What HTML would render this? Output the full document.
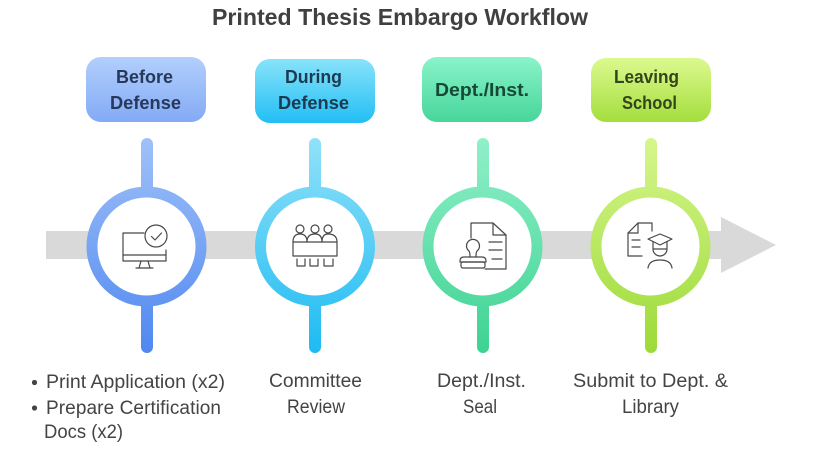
<!DOCTYPE html>
<html>
<head>
<meta charset="utf-8">
<style>
  html,body{margin:0;padding:0;background:#fff;}
  svg{display:block;}
  .ttl{font-family:"Liberation Sans",Arial,sans-serif;font-weight:bold;font-size:23px;fill:#404040;}
  .bx{font-family:"Liberation Sans",Arial,sans-serif;font-weight:bold;font-size:18px;}
  .lb{font-family:"Liberation Sans",Arial,sans-serif;font-size:19px;fill:#444;}
  .ic{fill:none;stroke:#474747;stroke-width:1.2;stroke-linejoin:round;stroke-linecap:round;}
</style>
</head>
<body>
<svg width="814" height="453" viewBox="0 0 814 453" xmlns="http://www.w3.org/2000/svg">
  <defs>
    <linearGradient id="b1" x1="0" y1="0" x2="0" y2="1"><stop offset="0" stop-color="#b2cffc"/><stop offset="1" stop-color="#83aaf5"/></linearGradient>
    <linearGradient id="b2" x1="0" y1="0" x2="0" y2="1"><stop offset="0" stop-color="#88e3fa"/><stop offset="1" stop-color="#22bef4"/></linearGradient>
    <linearGradient id="b3" x1="0" y1="0" x2="0" y2="1"><stop offset="0" stop-color="#8af4ca"/><stop offset="1" stop-color="#47d59a"/></linearGradient>
    <linearGradient id="b4" x1="0" y1="0" x2="0" y2="1"><stop offset="0" stop-color="#dcf98f"/><stop offset="1" stop-color="#a4de3d"/></linearGradient>

    <linearGradient id="c1" gradientUnits="userSpaceOnUse" x1="0" y1="138" x2="0" y2="353"><stop offset="0" stop-color="#a0c1f8"/><stop offset="1" stop-color="#5088f0"/></linearGradient>
    <linearGradient id="c2" gradientUnits="userSpaceOnUse" x1="0" y1="138" x2="0" y2="353"><stop offset="0" stop-color="#92e1f9"/><stop offset="1" stop-color="#1dbbf2"/></linearGradient>
    <linearGradient id="c3" gradientUnits="userSpaceOnUse" x1="0" y1="138" x2="0" y2="353"><stop offset="0" stop-color="#90f0c9"/><stop offset="1" stop-color="#3ed292"/></linearGradient>
    <linearGradient id="c4" gradientUnits="userSpaceOnUse" x1="0" y1="138" x2="0" y2="353"><stop offset="0" stop-color="#d6f68c"/><stop offset="1" stop-color="#9cda38"/></linearGradient>
  </defs>

  <!-- title -->
  <text class="ttl" x="212" y="25" textLength="376" lengthAdjust="spacingAndGlyphs">Printed Thesis Embargo Workflow</text>

  <!-- gray arrow band -->
  <rect x="46" y="231" width="676" height="28" fill="#d9d9d9"/>
  <polygon points="721,217 776,245 721,273" fill="#d9d9d9"/>

  <!-- header boxes -->
  <rect x="86" y="57" width="120" height="65" rx="15" fill="url(#b1)"/>
  <rect x="255" y="59" width="120" height="64" rx="15" fill="url(#b2)"/>
  <rect x="422" y="57" width="120" height="65" rx="15" fill="url(#b3)"/>
  <rect x="591" y="58" width="120" height="64" rx="15" fill="url(#b4)"/>

  <text class="bx" fill="#27395a" x="144.5" y="83" text-anchor="middle" textLength="57" lengthAdjust="spacingAndGlyphs">Before</text>
  <text class="bx" fill="#27395a" x="145.5" y="109" text-anchor="middle" textLength="71" lengthAdjust="spacingAndGlyphs">Defense</text>
  <text class="bx" fill="#1c3a52" x="313.5" y="83" text-anchor="middle" textLength="57" lengthAdjust="spacingAndGlyphs">During</text>
  <text class="bx" fill="#1c3a52" x="313.5" y="109" text-anchor="middle" textLength="71" lengthAdjust="spacingAndGlyphs">Defense</text>
  <text class="bx" fill="#174a36" x="482" y="96" text-anchor="middle" textLength="94" lengthAdjust="spacingAndGlyphs">Dept./Inst.</text>
  <text class="bx" fill="#34441c" x="646.5" y="83" text-anchor="middle" textLength="65" lengthAdjust="spacingAndGlyphs">Leaving</text>
  <text class="bx" fill="#34441c" x="649.5" y="109" text-anchor="middle" textLength="55" lengthAdjust="spacingAndGlyphs">School</text>

  <!-- column 1 -->
  <line x1="147" y1="144" x2="147" y2="192" stroke="url(#c1)" stroke-width="12" stroke-linecap="round"/>
  <line x1="147" y1="300" x2="147" y2="347" stroke="url(#c1)" stroke-width="12" stroke-linecap="round"/>
  <circle cx="146.5" cy="246.5" r="54.5" fill="#fff" stroke="url(#c1)" stroke-width="11"/>
  <!-- column 2 -->
  <line x1="315" y1="144" x2="315" y2="192" stroke="url(#c2)" stroke-width="12" stroke-linecap="round"/>
  <line x1="315" y1="300" x2="315" y2="347" stroke="url(#c2)" stroke-width="12" stroke-linecap="round"/>
  <circle cx="315" cy="246.5" r="54.5" fill="#fff" stroke="url(#c2)" stroke-width="11"/>
  <!-- column 3 -->
  <line x1="483" y1="144" x2="483" y2="192" stroke="url(#c3)" stroke-width="12" stroke-linecap="round"/>
  <line x1="483" y1="300" x2="483" y2="347" stroke="url(#c3)" stroke-width="12" stroke-linecap="round"/>
  <circle cx="482.5" cy="246.5" r="54.5" fill="#fff" stroke="url(#c3)" stroke-width="11"/>
  <!-- column 4 -->
  <line x1="651" y1="144" x2="651" y2="192" stroke="url(#c4)" stroke-width="12" stroke-linecap="round"/>
  <line x1="651" y1="300" x2="651" y2="347" stroke="url(#c4)" stroke-width="12" stroke-linecap="round"/>
  <circle cx="650.5" cy="246.5" r="54.5" fill="#fff" stroke="url(#c4)" stroke-width="11"/>

  <!-- icon 1: monitor with check -->
  <path class="ic" d="M144,233 H123 V261 H166 V250"/>
  <line class="ic" x1="123" y1="255" x2="166" y2="255"/>
  <path class="ic" d="M141,261 L139,268 M148,261 L150,268"/>
  <line class="ic" x1="136" y1="268" x2="153" y2="268"/>
  <circle class="ic" cx="156" cy="236" r="11"/>
  <path class="ic" d="M151.5,236.5 L155,240 L161.5,233"/>

  <!-- icon 2: committee -->
  <circle class="ic" cx="300" cy="229" r="4"/>
  <circle class="ic" cx="315" cy="229" r="4"/>
  <circle class="ic" cx="328" cy="229" r="4"/>
  <path class="ic" d="M293,242 Q293,234 300,234 Q307,234 307,242"/>
  <path class="ic" d="M307,242 Q307,234 315,234 Q322,234 322,242"/>
  <path class="ic" d="M322,242 Q322,234 328,234 Q337,234 337,242"/>
  <rect class="ic" x="293" y="242" width="44" height="14"/>
  <path class="ic" d="M297,259 V266 H305 V259"/>
  <path class="ic" d="M310,259 V266 H318 V259"/>
  <path class="ic" d="M324,259 V266 H333 V259"/>

  <!-- icon 3: stamp + document -->
  <path class="ic" d="M471,238 V223 H493 L506,235 V269 H485"/>
  <path class="ic" d="M493,223 V235 H506"/>
  <line class="ic" x1="489" y1="242" x2="502" y2="242"/>
  <line class="ic" x1="489" y1="250" x2="502" y2="250"/>
  <line class="ic" x1="492" y1="259" x2="502" y2="259"/>
  <path class="ic" d="M470,257 Q470,252 469,251 A6.5,6.5 0 1 1 477,251 Q476,252 476,257"/>
  <path class="ic" d="M464,257 H482 Q486,257 486,261 V262 H460 V261 Q460,257 464,257 Z"/>
  <rect class="ic" x="461" y="262" width="24" height="6" rx="2"/>

  <!-- icon 4: doc + graduate -->
  <path class="ic" d="M638,223 H652 V231"/>
  <path class="ic" d="M638,223 L628,233 V256 H642"/>
  <path class="ic" d="M628,233 H638 V223"/>
  <line class="ic" x1="632" y1="240" x2="640" y2="240"/>
  <line class="ic" x1="632" y1="247" x2="640" y2="247"/>
  <path class="ic" d="M648,239 L660,234 L672,239 L660,245 Z"/>
  <path class="ic" d="M653,242 V249 A7,7 0 0 0 667,249 V242"/>
  <line class="ic" x1="653" y1="249" x2="667" y2="249"/>
  <path class="ic" d="M648,268 Q649,260 660,260 Q671,260 672,268"/>

  <!-- bottom labels -->
  <circle cx="34.5" cy="382.5" r="2.6" fill="#444"/>
  <circle cx="34.5" cy="408" r="2.6" fill="#444"/>
  <text class="lb" x="46" y="388" textLength="179" lengthAdjust="spacingAndGlyphs">Print Application (x2)</text>
  <text class="lb" x="46" y="414" textLength="175" lengthAdjust="spacing">Prepare Certification</text>
  <text class="lb" x="44" y="438" textLength="79" lengthAdjust="spacingAndGlyphs">Docs (x2)</text>

  <text class="lb" x="315.5" y="387" text-anchor="middle" textLength="93" lengthAdjust="spacingAndGlyphs">Committee</text>
  <text class="lb" x="316" y="413" text-anchor="middle" textLength="58" lengthAdjust="spacingAndGlyphs">Review</text>

  <text class="lb" x="481.5" y="387" text-anchor="middle" textLength="89" lengthAdjust="spacingAndGlyphs">Dept./Inst.</text>
  <text class="lb" x="480" y="413" text-anchor="middle" textLength="34" lengthAdjust="spacingAndGlyphs">Seal</text>

  <text class="lb" x="650.5" y="387" text-anchor="middle" textLength="155" lengthAdjust="spacingAndGlyphs">Submit to Dept. &amp;</text>
  <text class="lb" x="650.5" y="413" text-anchor="middle" textLength="57" lengthAdjust="spacingAndGlyphs">Library</text>
</svg>
</body>
</html>
